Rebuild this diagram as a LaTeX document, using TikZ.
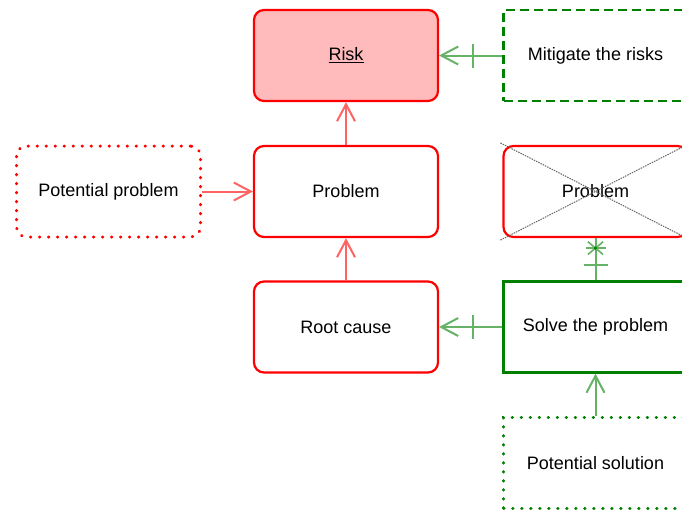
\documentclass[tikz,border=0pt]{standalone}
\usepackage{fontspec}
\setmainfont{Liberation Sans}
\usetikzlibrary{arrows.meta,decorations.markings}

\definecolor{riskfill}{HTML}{FFBBBB}
\definecolor{boxred}{HTML}{FF0000}
\definecolor{boxgreen}{HTML}{008000}
\definecolor{linkred}{HTML}{FF6464}
\definecolor{linkgreen}{HTML}{66B366}

\begin{document}
\begin{tikzpicture}[x=1pt,y=-1pt,
  box/.style={draw,line width=2.2pt,minimum width=184pt,minimum height=91pt,
              inner sep=0pt,font=\fontsize{18}{20}\selectfont},
  redbox/.style={box,draw=boxred,rounded corners=10pt},
  greenbox/.style={box,draw=boxgreen},
  openhead/.style={-{Straight Barb[length=17pt,width=18pt,line width=2pt]}},
  redlink/.style={linkred,line width=2pt,openhead},
  greenlink/.style={linkgreen,line width=2pt},
  tickat/.style={postaction={decorate,decoration={markings,
      mark=at position #1 with {\draw[-,linkgreen,line width=2pt] (0,-12pt) -- (0,12pt);}}}},
  starat/.style={postaction={decorate,decoration={markings,
      mark=at position #1 with {\foreach \a in {90,50,130}
        \draw[-,linkgreen,line width=1.6pt] (\a:10pt) -- (\a+180:10pt);
        \fill[boxgreen] (0,0) circle (1.8pt);}}}}]
  \useasboundingbox (0,0) rectangle (682,512);
  \clip (0,0) rectangle (682,512);

  % left part: the problem chain
  \node[redbox,fill=riskfill] (risk) at (346,55.5) {\underline{Risk}};
  \node[redbox] (problem) at (346,191.5) {Problem};
  \node[redbox] (rootcause) at (346,327) {Root cause};
  \node[redbox,line cap=round,dash pattern=on 0.5pt off 8.5pt,line width=3pt] (potproblem) at (108.5,191.5) {Potential problem};

  % right part: the measures
  \node[greenbox,dash pattern=on 9pt off 5pt] (mitigate) at (595.5,55.5) {Mitigate the risks};
  \node[redbox] (solvedproblem) at (595.5,191.5) {Problem};
  \draw[black!60,line width=1pt,dash pattern=on 1.5pt off 1pt] ([shift={(-2pt,2pt)}]solvedproblem.north west) -- ([shift={(2pt,-2pt)}]solvedproblem.south east);
  \draw[black!60,line width=1pt,dash pattern=on 1.5pt off 1pt] ([shift={(-2pt,-2pt)}]solvedproblem.south west) -- ([shift={(2pt,2pt)}]solvedproblem.north east);
  \node[greenbox] (solve) at (595.5,327) {Solve the problem};
  \node[greenbox,line cap=round,dash pattern=on 0.5pt off 8.5pt,line width=3pt] (potsolution) at (595.5,463) {Potential solution};

  \draw[redlink] (problem) -- (risk);
  \draw[redlink] (rootcause) -- (problem);
  \draw[redlink] (potproblem) -- (problem);
  \draw[greenlink,openhead,tickat=29pt] (mitigate) -- (risk);
  \draw[greenlink,openhead,tickat=29pt] (solve) -- (rootcause);
  \draw[greenlink,tickat=15pt,starat=-10pt] (solve) -- (solvedproblem);
  \draw[greenlink,openhead] (potsolution) -- (solve);
\end{tikzpicture}
\end{document}
